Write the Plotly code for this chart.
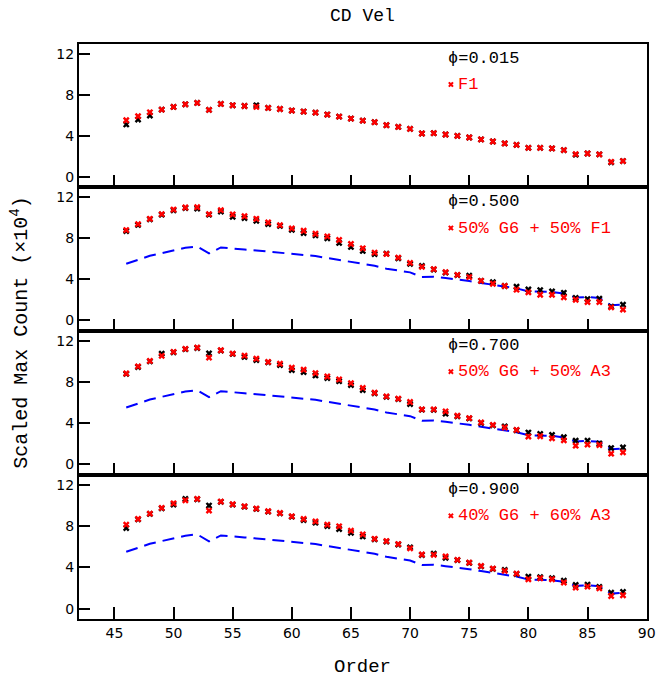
import plotly.graph_objects as go

orders = list(range(46, 89))

# phi = 0.015 : F1 model (red) and observed (black)
p1_model = [5.51, 5.90, 6.29, 6.55, 6.81, 7.07, 7.20, 6.52, 7.10, 6.97, 6.90, 6.81, 6.71, 6.61, 6.46,
            6.36, 6.26, 6.07, 5.87, 5.68, 5.48, 5.32, 5.03, 4.86, 4.67, 4.22, 4.25, 4.12, 3.99, 3.83,
            3.64, 3.44, 3.25, 3.11, 2.82, 2.82, 2.76, 2.60, 2.21, 2.27, 2.18, 1.46, 1.53]
p1_obs = [5.10, 5.58, 5.97, 6.55, 6.81, 7.07, 7.20, 6.52, 7.10, 6.97, 6.90, 6.97, 6.71, 6.61, 6.46,
          6.36, 6.26, 6.07, 5.87, 5.68, 5.48, 5.32, 5.03, 4.86, 4.67, 4.22, 4.25, 4.12, 3.99, 3.83,
          3.64, 3.44, 3.25, 3.11, 2.82, 2.82, 2.76, 2.60, 2.15, 2.27, 2.18, 1.40, 1.53]

# phi = 0.500
p2_model = [8.80, 9.38, 9.90, 10.35, 10.80, 11.00, 11.03, 10.35, 10.74, 10.32, 10.15, 9.90, 9.54, 9.28, 8.96,
            8.73, 8.44, 8.18, 7.83, 7.44, 7.02, 6.60, 6.47, 6.11, 5.60, 5.21, 4.98, 4.69, 4.43, 4.21,
            3.85, 3.56, 3.34, 2.98, 2.72, 2.49, 2.49, 2.23, 2.00, 1.78, 1.78, 1.26, 1.04]
p2_obs = [8.70, 9.30, 9.85, 10.30, 10.72, 10.95, 10.90, 10.30, 10.60, 10.10, 9.96, 9.70, 9.38, 9.20, 8.83,
          8.50, 8.28, 8.00, 7.54, 7.15, 6.76, 6.45, 6.50, 6.05, 5.50, 5.30, 4.95, 4.65, 4.40, 4.34,
          3.85, 3.72, 3.34, 3.27, 3.00, 2.94, 2.81, 2.68, 2.17, 2.07, 2.10, 1.33, 1.52]

# phi = 0.700
p3_model = [8.82, 9.51, 10.04, 10.53, 10.92, 11.21, 11.34, 10.36, 11.08, 10.75, 10.56, 10.26, 9.94, 9.77, 9.38,
            9.19, 8.86, 8.53, 8.24, 7.88, 7.42, 6.95, 6.60, 6.37, 6.05, 5.33, 5.33, 5.14, 4.71, 4.48,
            4.06, 3.82, 3.57, 3.33, 2.69, 2.72, 2.52, 2.32, 1.80, 1.90, 1.87, 1.02, 1.15]
p3_obs = [8.78, 9.45, 10.00, 10.75, 10.88, 11.18, 11.30, 10.78, 11.05, 10.72, 10.43, 10.13, 9.90, 9.64, 9.15,
          8.96, 8.63, 8.37, 8.07, 7.69, 7.20, 6.90, 6.55, 6.33, 5.85, 5.30, 5.28, 4.91, 4.65, 4.45,
          4.00, 3.78, 3.67, 3.30, 3.08, 2.95, 2.85, 2.62, 2.29, 2.29, 2.02, 1.57, 1.63]

# phi = 0.900
p4_model = [8.14, 8.69, 9.21, 9.76, 10.21, 10.50, 10.63, 9.50, 10.38, 10.12, 9.92, 9.70, 9.44, 9.27, 8.95,
            8.69, 8.46, 8.14, 7.98, 7.56, 7.20, 6.77, 6.55, 6.26, 5.84, 5.25, 5.22, 5.06, 4.73, 4.47,
            4.14, 3.89, 3.66, 3.40, 2.85, 2.95, 2.85, 2.53, 2.04, 2.14, 1.98, 1.23, 1.30]
p4_obs = [7.81, 8.65, 9.18, 9.72, 10.08, 10.63, 10.60, 9.99, 10.35, 10.08, 9.88, 9.66, 9.40, 9.23, 8.91,
          8.59, 8.33, 8.01, 7.72, 7.35, 7.00, 6.72, 6.50, 6.22, 5.94, 5.20, 5.32, 4.93, 4.70, 4.43,
          4.10, 3.85, 3.76, 3.36, 3.11, 3.05, 2.95, 2.72, 2.30, 2.33, 2.11, 1.56, 1.63]

phase_labels = ["\u03d5=0.015", "\u03d5=0.500", "\u03d5=0.700", "\u03d5=0.900"]
model_labels = ["F1", "50% G6 + 50% F1", "50% G6 + 50% A3", "40% G6 + 60% A3"]
models = [p1_model, p2_model, p3_model, p4_model]
observed = [p1_obs, p2_obs, p3_obs, p4_obs]
reference = p1_model  # phi=0.015 curve repeated as dashed line

x_ticks = [45, 50, 55, 60, 65, 70, 75, 80, 85, 90]
y_ticks = [0, 4, 8, 12]

W, H = 666, 686
panel_px = [(43.5, 187.0), (187.0, 330.5), (330.5, 474.5), (474.5, 619.0)]
x_dom = [80 / W, 655.5 / W]

MONO = "Liberation Mono"
fig = go.Figure()
layout = dict(
    width=W, height=H, margin=dict(l=0, r=0, t=0, b=0),
    paper_bgcolor="white", plot_bgcolor="white", showlegend=False,
    font=dict(family=MONO, color="black"),
)
annotations = []
for i in range(4):
    n = i + 1
    xa = "x" if n == 1 else f"x{n}"
    ya = "y" if n == 1 else f"y{n}"
    top, bot = panel_px[i]
    layout["xaxis" if n == 1 else f"xaxis{n}"] = dict(
        domain=x_dom, anchor=ya, range=[42, 90], tickvals=x_ticks,
        ticks="inside", ticklen=12, tickwidth=1.5, tickcolor="black",
        showticklabels=(n == 4), showgrid=False, zeroline=False,
        showline=True, linewidth=2, linecolor="black", mirror=True,
        tickfont=dict(family="DejaVu Sans", size=14, color="black"),
        matches="x" if n > 1 else None,
    )
    layout["yaxis" if n == 1 else f"yaxis{n}"] = dict(
        domain=[1 - bot / H, 1 - top / H], anchor=xa, range=[-1, 13],
        tickvals=y_ticks, ticks="inside", ticklen=11, tickwidth=1.5, tickcolor="black",
        showgrid=False, zeroline=False, showline=True, linewidth=2, linecolor="black",
        mirror=True, tickfont=dict(family="DejaVu Sans", size=14, color="black"),
    )
    if i > 0:
        fig.add_trace(go.Scatter(x=orders, y=reference, mode="lines", xaxis=xa, yaxis=ya,
                                 line=dict(color="#0000ff", width=2, dash="12px,7px")))
    fig.add_trace(go.Scatter(x=orders, y=observed[i], mode="markers", xaxis=xa, yaxis=ya,
                             marker=dict(symbol="x", size=6, color="black", line=dict(width=0))))
    fig.add_trace(go.Scatter(x=orders, y=models[i], mode="markers", xaxis=xa, yaxis=ya,
                             marker=dict(symbol="x", size=6, color="#ff0000", line=dict(width=0))))
    # legend marker
    fig.add_trace(go.Scatter(x=[73.45], y=[9.0], mode="markers", xaxis=xa, yaxis=ya,
                             marker=dict(symbol="x", size=5, color="#ff0000", line=dict(width=0))))
    annotations.append(dict(x=73.0, y=11.55, xref=xa, yref=ya, text=phase_labels[i],
                            showarrow=False, xanchor="left", yanchor="middle",
                            font=dict(family=MONO, size=17, color="black")))
    annotations.append(dict(x=73.9, y=9.0, xref=xa, yref=ya, text=model_labels[i],
                            showarrow=False, xanchor="left", yanchor="middle",
                            font=dict(family=MONO, size=17, color="#ff0000")))

annotations.append(dict(x=367.5 / W, y=1 - 16 / H, xref="paper", yref="paper", text="CD Vel",
                        showarrow=False, xanchor="center", yanchor="middle",
                        font=dict(family=MONO, size=18, color="black")))
annotations.append(dict(x=367.5 / W, y=1 - 667 / H, xref="paper", yref="paper", text="Order",
                        showarrow=False, xanchor="center", yanchor="middle",
                        font=dict(family=MONO, size=19, color="black")))
annotations.append(dict(x=20 / W, y=1 - 333 / H, xref="paper", yref="paper",
                        text="Scaled Max Count (\u00d710<sup>4</sup>)", textangle=-90,
                        showarrow=False, xanchor="center", yanchor="middle",
                        font=dict(family=MONO, size=20, color="black")))
layout["annotations"] = annotations
fig.update_layout(**layout)
fig.write_html("out.html")
